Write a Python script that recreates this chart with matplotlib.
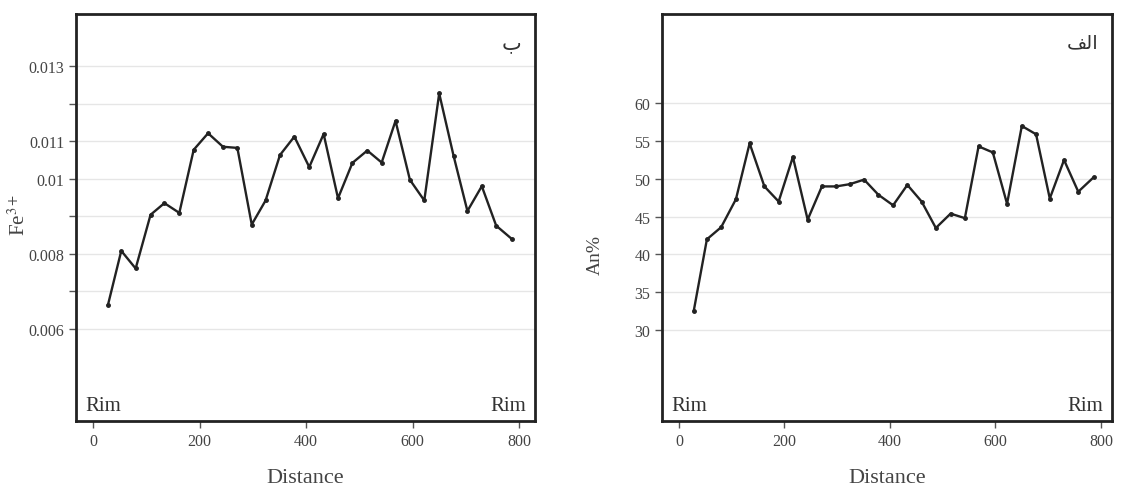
import matplotlib.pyplot as plt
from matplotlib.ticker import FixedLocator, FixedFormatter

# distance along the profile (both panels share the same spots)
distance = [28, 53, 80, 108, 134, 162, 189, 216, 244, 271, 298, 324, 351, 378, 406,
            433, 460, 487, 515, 542, 568, 595, 622, 650, 677, 703, 730, 757, 786]

fe3 = [0.00664, 0.00808, 0.00761, 0.00904, 0.00935, 0.00909, 0.01077, 0.01121,
       0.01085, 0.01082, 0.00878, 0.00942, 0.01063, 0.01112, 0.01031, 0.01119,
       0.00948, 0.01042, 0.01075, 0.01043, 0.01154, 0.00997, 0.00942, 0.01227,
       0.01061, 0.00914, 0.00980, 0.00875, 0.00840]

an_pct = [32.5, 42.0, 43.6, 47.3, 54.7, 49.0, 47.0, 52.9, 44.6, 49.0, 49.0, 49.3,
          49.9, 47.9, 46.5, 49.2, 47.0, 43.5, 45.4, 44.8, 54.3, 53.5, 46.7, 57.0,
          55.9, 47.4, 52.5, 48.3, 50.2]

fe_ticks = [0.006, 0.007, 0.008, 0.009, 0.010, 0.011, 0.012, 0.013]
fe_labels = ['0.006', '', '0.008', '', '0.01', '0.011', '', '0.013']
an_ticks = [30, 35, 40, 45, 50, 55, 60]
x_ticks = [0, 200, 400, 600, 800]

plt.rcParams['font.family'] = ['Liberation Serif', 'DejaVu Sans']
plt.rcParams['mathtext.fontset'] = 'stix'
text_col = '#444444'
grid_col = '#e6e6e6'

fig = plt.figure(figsize=(11.21, 4.89), dpi=100)
ax1 = fig.add_axes([0.0678, 0.137, 0.4095, 0.832])
ax2 = fig.add_axes([0.5906, 0.137, 0.4014, 0.832])


def style(ax):
    for s in ax.spines.values():
        s.set_linewidth(2.0)
        s.set_color('#222222')
    ax.tick_params(axis='both', direction='out', length=5, width=1,
                   color='#555555', labelcolor=text_col, labelsize=11.5)
    ax.set_xticks(x_ticks)
    ax.set_xlabel('Distance', fontsize=16, color=text_col, labelpad=14)
    ax.yaxis.grid(True, color=grid_col, linewidth=1)
    ax.set_axisbelow(True)
    ax.text(0.02, 0.015, 'Rim', transform=ax.transAxes, fontsize=15,
            color='#333333', ha='left', va='bottom')
    ax.text(0.98, 0.015, 'Rim', transform=ax.transAxes, fontsize=15,
            color='#333333', ha='right', va='bottom')


# panel b: Fe3+
ax1.plot(distance, fe3, color='#222222', linewidth=1.7, marker='o', markersize=2.5)
ax1.set_xlim(-32, 830)
ax1.set_ylim(0.00355, 0.01438)
ax1.yaxis.set_major_locator(FixedLocator(fe_ticks))
ax1.yaxis.set_major_formatter(FixedFormatter(fe_labels))
ax1.set_ylabel('Fe$^{3+}$', fontsize=15, color=text_col)
ax1.yaxis.set_label_coords(-0.10, 0.51)
style(ax1)
ax1.text(0.97, 0.955, '\u0628', transform=ax1.transAxes, fontsize=15,
         color='#333333', ha='right', va='top', family=['DejaVu Sans'])

# panel alef: An%
ax2.plot(distance, an_pct, color='#222222', linewidth=1.7, marker='o', markersize=2.5)
ax2.set_xlim(-32, 821)
ax2.set_ylim(17.95, 71.8)
ax2.set_yticks(an_ticks)
ax2.set_ylabel('An%', fontsize=14, color=text_col)
ax2.yaxis.set_label_coords(-0.13, 0.41)
style(ax2)
ax2.text(0.97, 0.955, '\uFED2\uFEDF\u0627', transform=ax2.transAxes, fontsize=14,
         color='#333333', ha='right', va='top', family=['DejaVu Sans'])

fig.savefig('out.png', dpi=100)
